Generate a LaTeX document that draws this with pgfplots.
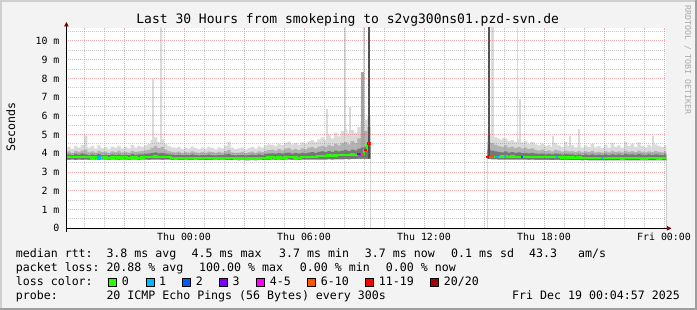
\documentclass[border=0pt]{standalone}
\usepackage{fontspec}
\setmainfont{DejaVu Sans Mono}
\usepackage{pgfplots}
\pgfplotsset{compat=1.18}
\usepackage{pgfplotstable}
\usetikzlibrary{arrows.meta}

\definecolor{bgc}{HTML}{F3F3F3}
\definecolor{shadeA}{HTML}{CFCFCF}
\definecolor{shadeB}{HTML}{9E9E9E}
\definecolor{mgrid}{HTML}{DE5050}
\definecolor{gridc}{HTML}{8F8F8F}
\definecolor{arrowc}{HTML}{800000}
\definecolor{smokeL}{HTML}{DADADA}
\definecolor{smokeM}{HTML}{B2B2B2}
\definecolor{smokeD}{HTML}{767676}
\definecolor{spikeM}{HTML}{A4A4A4}
\definecolor{spikeD}{HTML}{505050}
\definecolor{wmc}{HTML}{AAAAAA}
\definecolor{lc0}{HTML}{26FF00}
\definecolor{lc1}{HTML}{00B8FF}
\definecolor{lc2}{HTML}{0059FF}
\definecolor{lc3}{HTML}{7E00FF}
\definecolor{lc45}{HTML}{FF00FF}
\definecolor{lc610}{HTML}{FF5500}
\definecolor{lc1119}{HTML}{FF0000}
\definecolor{lc20}{HTML}{A10000}

\newcommand\titlefont{\fontsize{13bp}{15bp}\selectfont}
\newcommand\lgfont{\fontsize{11.6bp}{13bp}\selectfont}
\newcommand\tickfont{\fontsize{9.9bp}{11bp}\selectfont}
\newcommand\wmfont{\fontsize{8.3bp}{9bp}\selectfont}

% k = 10-minute slot counted from Wed 18:00; columns: min, dark top, medium top, max, median (ms)
\pgfplotstableread{
k lo dk md hi med
0 3.66 3.92 4.05 4.28 3.80
1 3.65 3.95 4.10 4.35 3.80
2 3.66 3.90 4.02 4.22 3.81
3 3.64 3.96 4.12 4.40 3.79
4 3.66 3.93 4.08 4.30 3.80
5 3.65 3.98 4.15 4.45 3.80
6 3.66 3.95 4.20 4.95 3.79
7 3.65 3.90 4.05 4.30 3.80
8 3.66 3.94 4.10 4.38 3.78
9 3.67 3.92 4.04 4.25 3.79
10 3.65 3.96 4.12 4.42 3.78
11 3.66 3.91 4.06 4.28 3.79
12 3.66 3.93 4.09 4.33 3.78
13 3.65 3.90 4.03 4.24 3.77
14 3.66 3.94 4.11 4.36 3.78
15 3.66 3.92 4.07 4.30 3.79
16 3.65 3.95 4.14 4.40 3.78
17 3.66 3.91 4.05 4.27 3.78
18 3.66 3.93 4.08 4.34 3.79
19 3.65 3.90 4.04 4.26 3.77
20 3.66 3.96 4.13 4.45 3.78
21 3.66 3.92 4.06 4.30 3.78
22 3.65 3.94 4.10 4.38 3.77
23 3.66 3.95 4.12 4.33 3.78
24 3.66 3.97 4.16 4.42 3.79
25 3.65 3.99 4.20 4.50 3.80
26 3.66 4.02 4.30 4.70 3.81
27 3.66 4.05 4.40 4.85 3.83
28 3.66 4.00 4.28 4.60 3.82
29 3.65 4.03 4.35 4.75 3.81
30 3.66 3.98 4.20 4.50 3.80
31 3.66 3.95 4.12 4.40 3.79
32 3.65 3.93 4.08 4.32 3.77
33 3.66 3.91 4.05 4.28 3.76
34 3.65 3.93 4.09 4.34 3.75
35 3.65 3.90 4.03 4.24 3.75
36 3.66 3.92 4.07 4.30 3.76
37 3.65 3.90 4.04 4.26 3.75
38 3.65 3.94 4.10 4.36 3.75
39 3.66 3.91 4.05 4.28 3.76
40 3.65 3.89 4.02 4.22 3.74
41 3.65 3.92 4.07 4.31 3.74
42 3.64 3.90 4.04 4.25 3.75
43 3.65 3.93 4.09 4.35 3.75
44 3.65 3.91 4.06 4.29 3.74
45 3.64 3.89 4.02 4.21 3.73
46 3.65 3.92 4.08 4.32 3.74
47 3.64 3.90 4.04 4.27 3.73
48 3.65 3.94 4.12 4.40 3.74
49 3.65 3.96 4.18 4.60 3.75
50 3.64 3.91 4.05 4.30 3.74
51 3.64 3.89 4.02 4.23 3.73
52 3.63 3.90 4.04 4.26 3.72
53 3.64 3.92 4.07 4.31 3.73
54 3.63 3.89 4.01 4.20 3.72
55 3.63 3.91 4.05 4.28 3.72
56 3.64 3.93 4.09 4.34 3.73
57 3.63 3.90 4.03 4.25 3.72
58 3.64 3.94 4.10 4.37 3.73
59 3.64 3.92 4.07 4.30 3.74
60 3.65 3.96 4.13 4.42 3.76
61 3.65 3.98 4.17 4.48 3.78
62 3.66 4.00 4.20 4.45 3.79
63 3.65 3.97 4.15 4.40 3.77
64 3.66 4.01 4.22 4.52 3.78
65 3.65 3.98 4.16 4.44 3.77
66 3.66 4.02 4.25 4.56 3.78
67 3.66 4.04 4.28 4.62 3.80
68 3.65 3.99 4.18 4.48 3.79
69 3.66 4.02 4.24 4.55 3.78
70 3.65 3.98 4.17 4.46 3.77
71 3.66 4.03 4.26 4.58 3.79
72 3.66 4.00 4.21 4.50 3.80
73 3.66 4.04 4.30 4.64 3.80
74 3.67 4.06 4.33 4.70 3.82
75 3.66 4.03 4.27 4.60 3.81
76 3.67 4.08 4.36 4.75 3.84
77 3.67 4.10 4.40 4.85 3.85
78 3.67 4.06 4.34 4.72 3.86
79 3.68 4.12 4.45 5.00 3.88
80 3.67 4.08 4.38 4.80 3.87
81 3.68 4.14 4.50 5.10 3.89
82 3.68 4.10 4.42 4.90 3.90
83 3.68 4.15 4.55 5.20 3.91
84 3.69 4.18 4.60 5.30 3.92
85 3.68 4.12 4.48 5.05 3.93
86 3.69 4.20 4.65 5.25 3.94
87 3.69 4.16 4.55 5.10 3.93
88 3.70 4.25 4.80 5.40 3.95
89 3.70 4.30 5.00 5.60 3.95
90 3.70 4.35 5.20 5.80 4.20
91 3.70 4.40 5.40 6.00 4.53
92 0 0 0 0 nan
127 3.70 4.20 4.60 5.00 3.82
128 3.68 4.15 4.55 4.95 3.80
129 3.68 4.10 4.45 4.85 3.81
130 3.67 4.08 4.40 4.78 3.82
131 3.67 4.05 4.35 4.70 3.83
132 3.67 4.10 4.42 4.80 3.85
133 3.66 4.04 4.32 4.65 3.82
134 3.67 4.06 4.36 4.72 3.83
135 3.66 4.02 4.28 4.60 3.81
136 3.66 4.05 4.34 4.75 3.82
137 3.66 4.01 4.26 4.58 3.81
138 3.66 4.03 4.30 4.65 3.82
139 3.65 4.00 4.22 4.50 3.80
140 3.66 4.02 4.26 4.60 3.81
141 3.65 3.98 4.18 4.48 3.80
142 3.65 3.96 4.15 4.42 3.80
143 3.65 3.99 4.20 4.52 3.81
144 3.65 3.95 4.12 4.38 3.79
145 3.65 3.97 4.16 4.45 3.80
146 3.64 3.94 4.10 4.36 3.79
147 3.65 3.98 4.18 4.55 3.80
148 3.65 3.96 4.14 4.42 3.79
149 3.64 3.93 4.09 4.35 3.78
150 3.65 3.96 4.14 4.60 3.79
151 3.64 3.94 4.10 4.40 3.78
152 3.64 3.95 4.12 4.45 3.78
153 3.64 3.92 4.07 4.32 3.77
154 3.64 3.95 4.12 4.44 3.78
155 3.63 3.91 4.05 4.30 3.76
156 3.64 3.94 4.10 4.42 3.77
157 3.63 3.92 4.06 4.33 3.76
158 3.63 3.95 4.12 4.50 3.76
159 3.63 3.91 4.05 4.32 3.75
160 3.63 3.93 4.08 4.38 3.75
161 3.63 3.90 4.04 4.28 3.74
162 3.63 3.94 4.11 4.46 3.74
163 3.62 3.91 4.05 4.30 3.74
164 3.63 3.95 4.13 4.55 3.75
165 3.62 3.92 4.06 4.34 3.74
166 3.63 3.94 4.10 4.42 3.74
167 3.62 3.91 4.05 4.31 3.73
168 3.63 3.96 4.15 4.60 3.75
169 3.63 3.93 4.08 4.40 3.74
170 3.62 3.95 4.12 4.50 3.75
171 3.62 3.92 4.06 4.35 3.74
172 3.63 3.96 4.14 4.58 3.74
173 3.62 3.93 4.08 4.40 3.73
174 3.62 3.91 4.05 4.32 3.73
175 3.63 3.94 4.11 4.45 3.74
176 3.62 3.92 4.06 4.36 3.74
177 3.62 3.95 4.12 4.48 3.74
178 3.63 3.93 4.08 4.40 3.73
179 3.62 3.91 4.05 4.33 3.74
180 3.62 3.94 4.10 4.42 3.74
181 3.62 3.94 4.10 4.42 3.74
}\smoke

\begin{document}
\begin{tikzpicture}
\useasboundingbox (0,0) rectangle (697bp,310bp);
\fill[bgc] (0,0) rectangle (697bp,310bp);
\fill[shadeA] (0,0) rectangle (2bp,310bp);
\fill[shadeA] (0,308bp) rectangle (697bp,310bp);
\fill[shadeB] (0,0) rectangle (697bp,2bp);
\fill[shadeB] (695bp,0) rectangle (697bp,310bp);

\begin{axis}[
  at={(66.4bp,81.7bp)}, anchor=south west,
  scale only axis, width=600bp, height=200.3bp,
  xmin=0.72, xmax=180.72, ymin=0, ymax=10.69,
  axis on top,
  axis lines=left,
  axis line style={line width=0.8bp, draw=black},
  x axis line style={-{Triangle[width=4.5bp,length=4.5bp,color=arrowc]}, shorten >=-5bp},
  y axis line style={-{Triangle[width=4.5bp,length=4.5bp,color=arrowc]}, shorten >=-6bp, shorten <=-3.4bp},
  xtick={18,36,54,72,90,108,126,144,162,180},
  xticklabels={,Thu 00:00,,Thu 06:00,,Thu 12:00,,Thu 18:00,,Fri 00:00},
  minor xtick={6,12,24,30,42,48,60,66,78,84,96,102,114,120,132,138,150,156,168,174},
  ytick={0,1,2,3,4,5,6,7,8,9,10},
  yticklabels={0,1 m,2 m,3 m,4 m,5 m,6 m,7 m,8 m,9 m,10 m},
  minor ytick={0.5,1.5,2.5,3.5,4.5,5.5,6.5,7.5,8.5,9.5,10.5},
  grid=both,
  major grid style={draw=mgrid, opacity=0.46, line width=1bp, dash pattern=on 1bp off 1bp},
  minor grid style={draw=gridc, opacity=0.46, line width=1bp, dash pattern=on 1bp off 1bp},
  major tick length=0pt, minor tick length=0pt,
  ticklabel style={font=\tickfont, inner sep=0pt},
  xticklabel style={anchor=base, yshift=-12.4bp},
  yticklabel style={anchor=east, xshift=-6.8bp},
  axis background/.style={fill=white},
]
% light smoke
\addplot[const plot, draw=none, fill=smokeL] table[x=k,y=hi]{\smoke} \closedcycle;
\addplot[ycomb, draw=smokeL, line width=1.7bp, mark=none] coordinates {
 (26.8,7.95) (29.0,11) (78.9,6.37) (84.3,11) (85.8,6.5) (90.05,11)
 (131.7,4.8) (146.7,4.9) (151.8,4.9) (154.6,5.3) (176.8,4.9)};
\addplot[ycomb, draw=smokeL, line width=3.3bp, mark=none] coordinates {(128.6,11)};
\addplot[ycomb, draw=smokeL, line width=1bp, mark=none] coordinates {(136.1,11)};
\addplot[ycomb, draw=smokeL, line width=2bp, mark=none] coordinates {(136.7,6.9)};
% medium smoke
\addplot[const plot, draw=none, fill=smokeM] table[x=k,y=md]{\smoke} \closedcycle;
\addplot[ycomb, draw=spikeM, line width=3bp, mark=none] coordinates {(89.55,8.35)};
% dark smoke
\addplot[const plot, draw=none, fill=smokeD] table[x=k,y=dk]{\smoke} \closedcycle;
\addplot[ycomb, draw=spikeD, line width=2.2bp, mark=none] coordinates {(91.46,11) (127.55,11)};
% below minimum
\addplot[const plot, draw=none, fill=white] table[x=k,y=lo]{\smoke} \closedcycle;
% median
\addplot[const plot, draw=lc0, line width=2.2bp, unbounded coords=jump] table[x=k,y=med]{\smoke};
% loss colours of the median
\addplot[draw=lc1, line width=2.2bp] coordinates {(10,3.78) (11,3.78)};
\addplot[draw=lc3, line width=2.2bp] coordinates {(88,3.95) (89,3.95)};
\addplot[draw=lc610, line width=2.2bp] coordinates {(89,3.95) (90,3.95)};
\addplot[draw=lc1119, line width=2.2bp] coordinates {(90,4.2) (91,4.2)};
\addplot[draw=lc1119, line width=2.2bp] coordinates {(91,4.53) (92,4.53)};
\addplot[draw=lc1119, line width=2.2bp] coordinates {(126.5,3.82) (127.6,3.82)};
\addplot[draw=lc610, line width=2.2bp] coordinates {(127.6,3.81) (129.1,3.81)};
\addplot[draw=lc1, line width=2.2bp] coordinates {(129.4,3.81) (130.4,3.81)};
\addplot[draw=lc1, line width=2.2bp] coordinates {(132.1,3.85) (132.7,3.85)};
\addplot[draw=lc2, line width=2.2bp] coordinates {(137.1,3.81) (137.7,3.81)};
\addplot[draw=lc1, line width=2.2bp] coordinates {(147.6,3.80) (148.2,3.80)};
\addplot[draw=lc1, line width=2.2bp] coordinates {(161.1,3.74) (161.7,3.74)};
\end{axis}

% title, axis label, watermark
\node[anchor=base, inner sep=0, font=\titlefont] at (347.7bp,286.7bp) {Last 30 Hours from smokeping to s2vg300ns01.pzd-svn.de};
\node[rotate=90, anchor=base, inner sep=0, font=\lgfont] at (15bp,183.3bp) {Seconds};
\node[rotate=-90, anchor=base, inner sep=0, font=\wmfont, text=wmc] at (685bp,250bp) {RRDTOOL / TOBI OETIKER};

% legend rows
\begin{scope}[every node/.style={anchor=base west, inner sep=0, font=\lgfont}]
\node at (15.7bp,52.4bp) {median rtt:};
\node at (106.3bp,52.4bp) {3.8 ms avg};
\node at (191.5bp,52.4bp) {4.5 ms max};
\node at (279bp,52.4bp) {3.7 ms min};
\node at (364.7bp,52.4bp) {3.7 ms now};
\node at (451bp,52.4bp) {0.1 ms sd};
\node at (529bp,52.4bp) {43.3};
\node at (578bp,52.4bp) {am/s};

\node at (15.7bp,38.4bp) {packet loss:};
\node at (106.3bp,38.4bp) {20.88 \% avg};
\node at (199bp,38.4bp) {100.00 \% max};
\node at (299.7bp,38.4bp) {0.00 \% min};
\node at (385.7bp,38.4bp) {0.00 \% now};

\node at (15.7bp,24.4bp) {loss color:};
\node at (121.7bp,24.4bp) {0};
\node at (159bp,24.4bp) {1};
\node at (195.7bp,24.4bp) {2};
\node at (232.3bp,24.4bp) {3};
\node at (269.7bp,24.4bp) {4-5};
\node at (320.7bp,24.4bp) {6-10};
\node at (378.7bp,24.4bp) {11-19};
\node at (443.7bp,24.4bp) {20/20};

\node at (15.7bp,10.7bp) {probe:};
\node at (106.3bp,10.7bp) {20 ICMP Echo Pings (56 Bytes) every 300s};
\node at (512bp,10.7bp) {Fri Dec 19 00:04:57 2025};
\end{scope}

\begin{scope}[line width=0.8bp]
\filldraw[fill=lc0]    (108.7bp,23.7bp) rectangle ++(8bp,8bp);
\filldraw[fill=lc1]    (146bp,23.7bp) rectangle ++(8bp,8bp);
\filldraw[fill=lc2]    (182.7bp,23.7bp) rectangle ++(8bp,8bp);
\filldraw[fill=lc3]    (219.3bp,23.7bp) rectangle ++(8bp,8bp);
\filldraw[fill=lc45]   (256.7bp,23.7bp) rectangle ++(8bp,8bp);
\filldraw[fill=lc610]  (307.7bp,23.7bp) rectangle ++(8bp,8bp);
\filldraw[fill=lc1119] (365.7bp,23.7bp) rectangle ++(8bp,8bp);
\filldraw[fill=lc20]   (430.7bp,23.7bp) rectangle ++(8bp,8bp);
\end{scope}
\end{tikzpicture}
\end{document}
